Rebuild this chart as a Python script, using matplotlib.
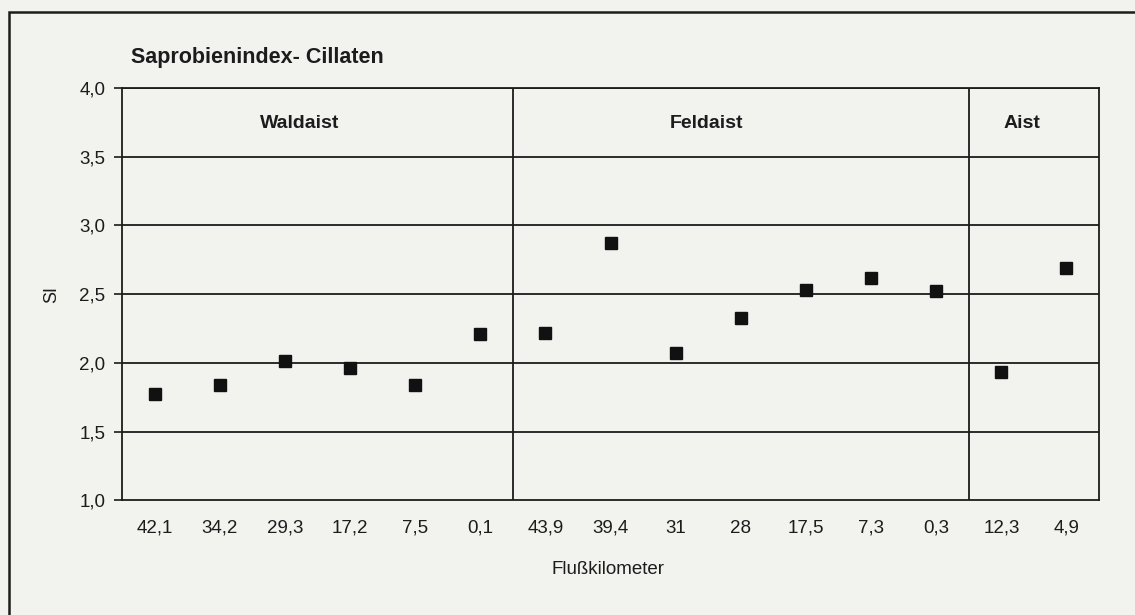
import matplotlib.pyplot as plt
from matplotlib.patches import Rectangle

# Daten
km_labels = ['42,1', '34,2', '29,3', '17,2', '7,5', '0,1',
             '43,9', '39,4', '31', '28', '17,5', '7,3', '0,3',
             '12,3', '4,9']
si_values = [1.77, 1.84, 2.01, 1.96, 1.84, 2.21,
             2.22, 2.87, 2.07, 2.33, 2.53, 2.62, 2.52,
             1.93, 2.69]
rivers = ['Waldaist', 'Feldaist', 'Aist']
river_counts = [6, 7, 2]
river_label_x = [2.23, 8.48, 13.32]
y_ticks = [1.0, 1.5, 2.0, 2.5, 3.0, 3.5, 4.0]

plt.rcParams['font.family'] = ['Liberation Sans', 'DejaVu Sans']
ink = '#1c1c1c'
bg = '#f2f2ef'

fig = plt.figure(figsize=(11.35, 6.15), dpi=100, facecolor=bg)
ax = fig.add_axes([0.1075, 0.1865, 0.8608, 0.6704])
ax.set_facecolor(bg)

# äußerer Rahmen (Scan abgeschnitten rechts/unten)
fig.patches.append(Rectangle((9 / 1135, -0.05), 1.2, 1 - 12 / 615 + 0.05,
                             transform=fig.transFigure, fill=False,
                             edgecolor=ink, lw=1.8, zorder=0))

x = list(range(len(km_labels)))
ax.plot(x, si_values, linestyle='none', marker='s', markersize=8.5,
        color='#111111', zorder=3)

ax.set_xlim(-0.5, len(km_labels) - 0.5)
ax.set_ylim(1.0, 4.0)
ax.set_yticks(y_ticks)
ax.set_yticklabels([f'{v:.1f}'.replace('.', ',') for v in y_ticks])
ax.set_xticks(x)
ax.set_xticklabels(km_labels)
ax.tick_params(axis='x', length=0, pad=14, labelsize=13.5, colors=ink)
ax.tick_params(axis='y', length=6, width=1.2, pad=6, labelsize=13.5, colors=ink)

for v in y_ticks[1:]:
    ax.axhline(v, color=ink, lw=1.3, zorder=1)

# Trennlinien zwischen Flüssen + Beschriftung
start = 0
for name, n, lx in zip(rivers, river_counts, river_label_x):
    end = start + n
    if end < len(km_labels):
        ax.axvline(end - 0.5, color=ink, lw=1.3, zorder=1)
    ax.text(lx, 3.74, name, ha='center', va='center',
            fontsize=14, fontweight='bold', color=ink)
    start = end

for s in ax.spines.values():
    s.set_color(ink)
    s.set_linewidth(1.3)

ax.set_ylabel('SI', fontsize=13, color=ink, labelpad=14)
ax.set_xlabel('Flußkilometer', fontsize=13.5, color=ink)
ax.xaxis.set_label_coords(0.497, -0.148)

fig.text(131 / 1135, 1 - 58 / 615, 'Saprobienindex- Cillaten', fontsize=15.5,
         fontweight='bold', color=ink, va='center', ha='left')

fig.savefig('out.png', dpi=100, facecolor=bg)
